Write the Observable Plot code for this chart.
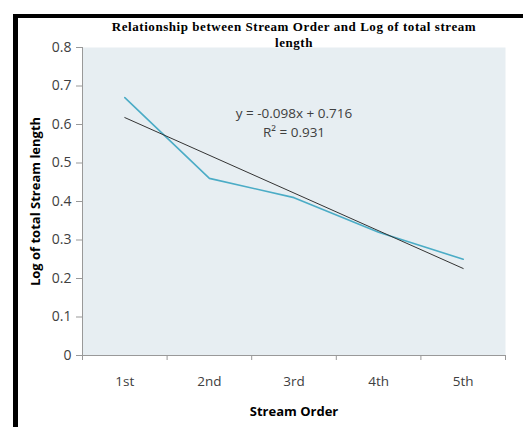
<!DOCTYPE html>
<html><head><meta charset="utf-8">
<script src="https://cdn.jsdelivr.net/npm/d3@7"></script>
<script src="https://cdn.jsdelivr.net/npm/@observablehq/plot@0.6"></script>
<style>
html,body{margin:0;padding:0;background:#fff;}
#wrap{position:relative;width:523px;height:427px;overflow:hidden;}
#frame{position:absolute;left:13px;top:14px;width:520px;height:430px;border-left:5px solid #000;border-top:4px solid #000;box-sizing:border-box;}
#title{position:absolute;left:84px;width:420px;top:19px;text-align:center;font-family:"Liberation Serif",serif;font-weight:bold;font-size:13px;line-height:16px;color:#000;letter-spacing:0.55px;}
#chart{position:absolute;left:0;top:0;}
</style></head>
<body><div id="wrap"><div id="frame"></div><div id="chart"></div>
<div id="title">Relationship between Stream Order and Log of total stream<br>length</div></div>
<script>
const categories = ["1st","2nd","3rd","4th","5th"];
const orderIndex = [1,2,3,4,5];
const logLength = [0.67,0.46,0.41,0.32,0.25];
const yTicks = [0,0.1,0.2,0.3,0.4,0.5,0.6,0.7,0.8];
const boundaries = [0.5,1.5,2.5,3.5,4.5,5.5];
const equationText = ["y = -0.098x + 0.716","R² = 0.931"];

const data = orderIndex.map((x,i)=>({x, y: logLength[i], label: categories[i]}));
const font = "'Open Sans', Lato, sans-serif";

const chart = Plot.plot({
  width: 523, height: 427,
  marginLeft: 82, marginRight: 18, marginTop: 47, marginBottom: 72,
  style: {fontFamily: font, fontSize: "13px", color: "#404040", background: "transparent"},
  x: {domain: [0.5,5.5]},
  y: {domain: [0,0.8]},
  marks: [
    Plot.frame({fill: "#e7eef2", stroke: null}),
    Plot.ruleX([0.5], {stroke: "#999"}),
    Plot.ruleY([0], {stroke: "#999"}),
    Plot.axisY({ticks: yTicks, tickSize: 6, tickPadding: 5, stroke: "#999", fill: "#404040", fontSize: 14,
      tickFormat: d => d === 0 ? "0" : d.toFixed(1),
      label: "Log of total Stream length", labelAnchor: "center", labelArrow: "none", labelOffset: 52}),
    Plot.axisX({ticks: boundaries, tickSize: 5, tickFormat: () => "", stroke: "#999", label: null}),
    Plot.axisX({ticks: orderIndex, tickSize: 0, tickPadding: 21, tickFormat: d => categories[d-1], fill: "#404040", fontSize: 13.5,
      label: "Stream Order", labelAnchor: "center", labelArrow: "none", labelOffset: 60}),
    Plot.line(data, {x: "x", y: "y", stroke: "#4bacc6", strokeWidth: 1.6}),
    Plot.linearRegressionY(data, {x: "x", y: "y", ci: 0, stroke: "#333", strokeWidth: 1}),
    Plot.text(equationText, {x: 3, y: [0.628, 0.578], text: d => d, fill: "#404040", fontSize: 13.5})
  ]
});
chart.querySelectorAll("g[aria-label='y-axis label'] text, g[aria-label='x-axis label'] text").forEach(t=>{t.style.fontWeight="bold"; t.setAttribute("fill","#000"); t.style.fontSize="13px";});
document.getElementById("chart").appendChild(chart);
</script></body></html>
